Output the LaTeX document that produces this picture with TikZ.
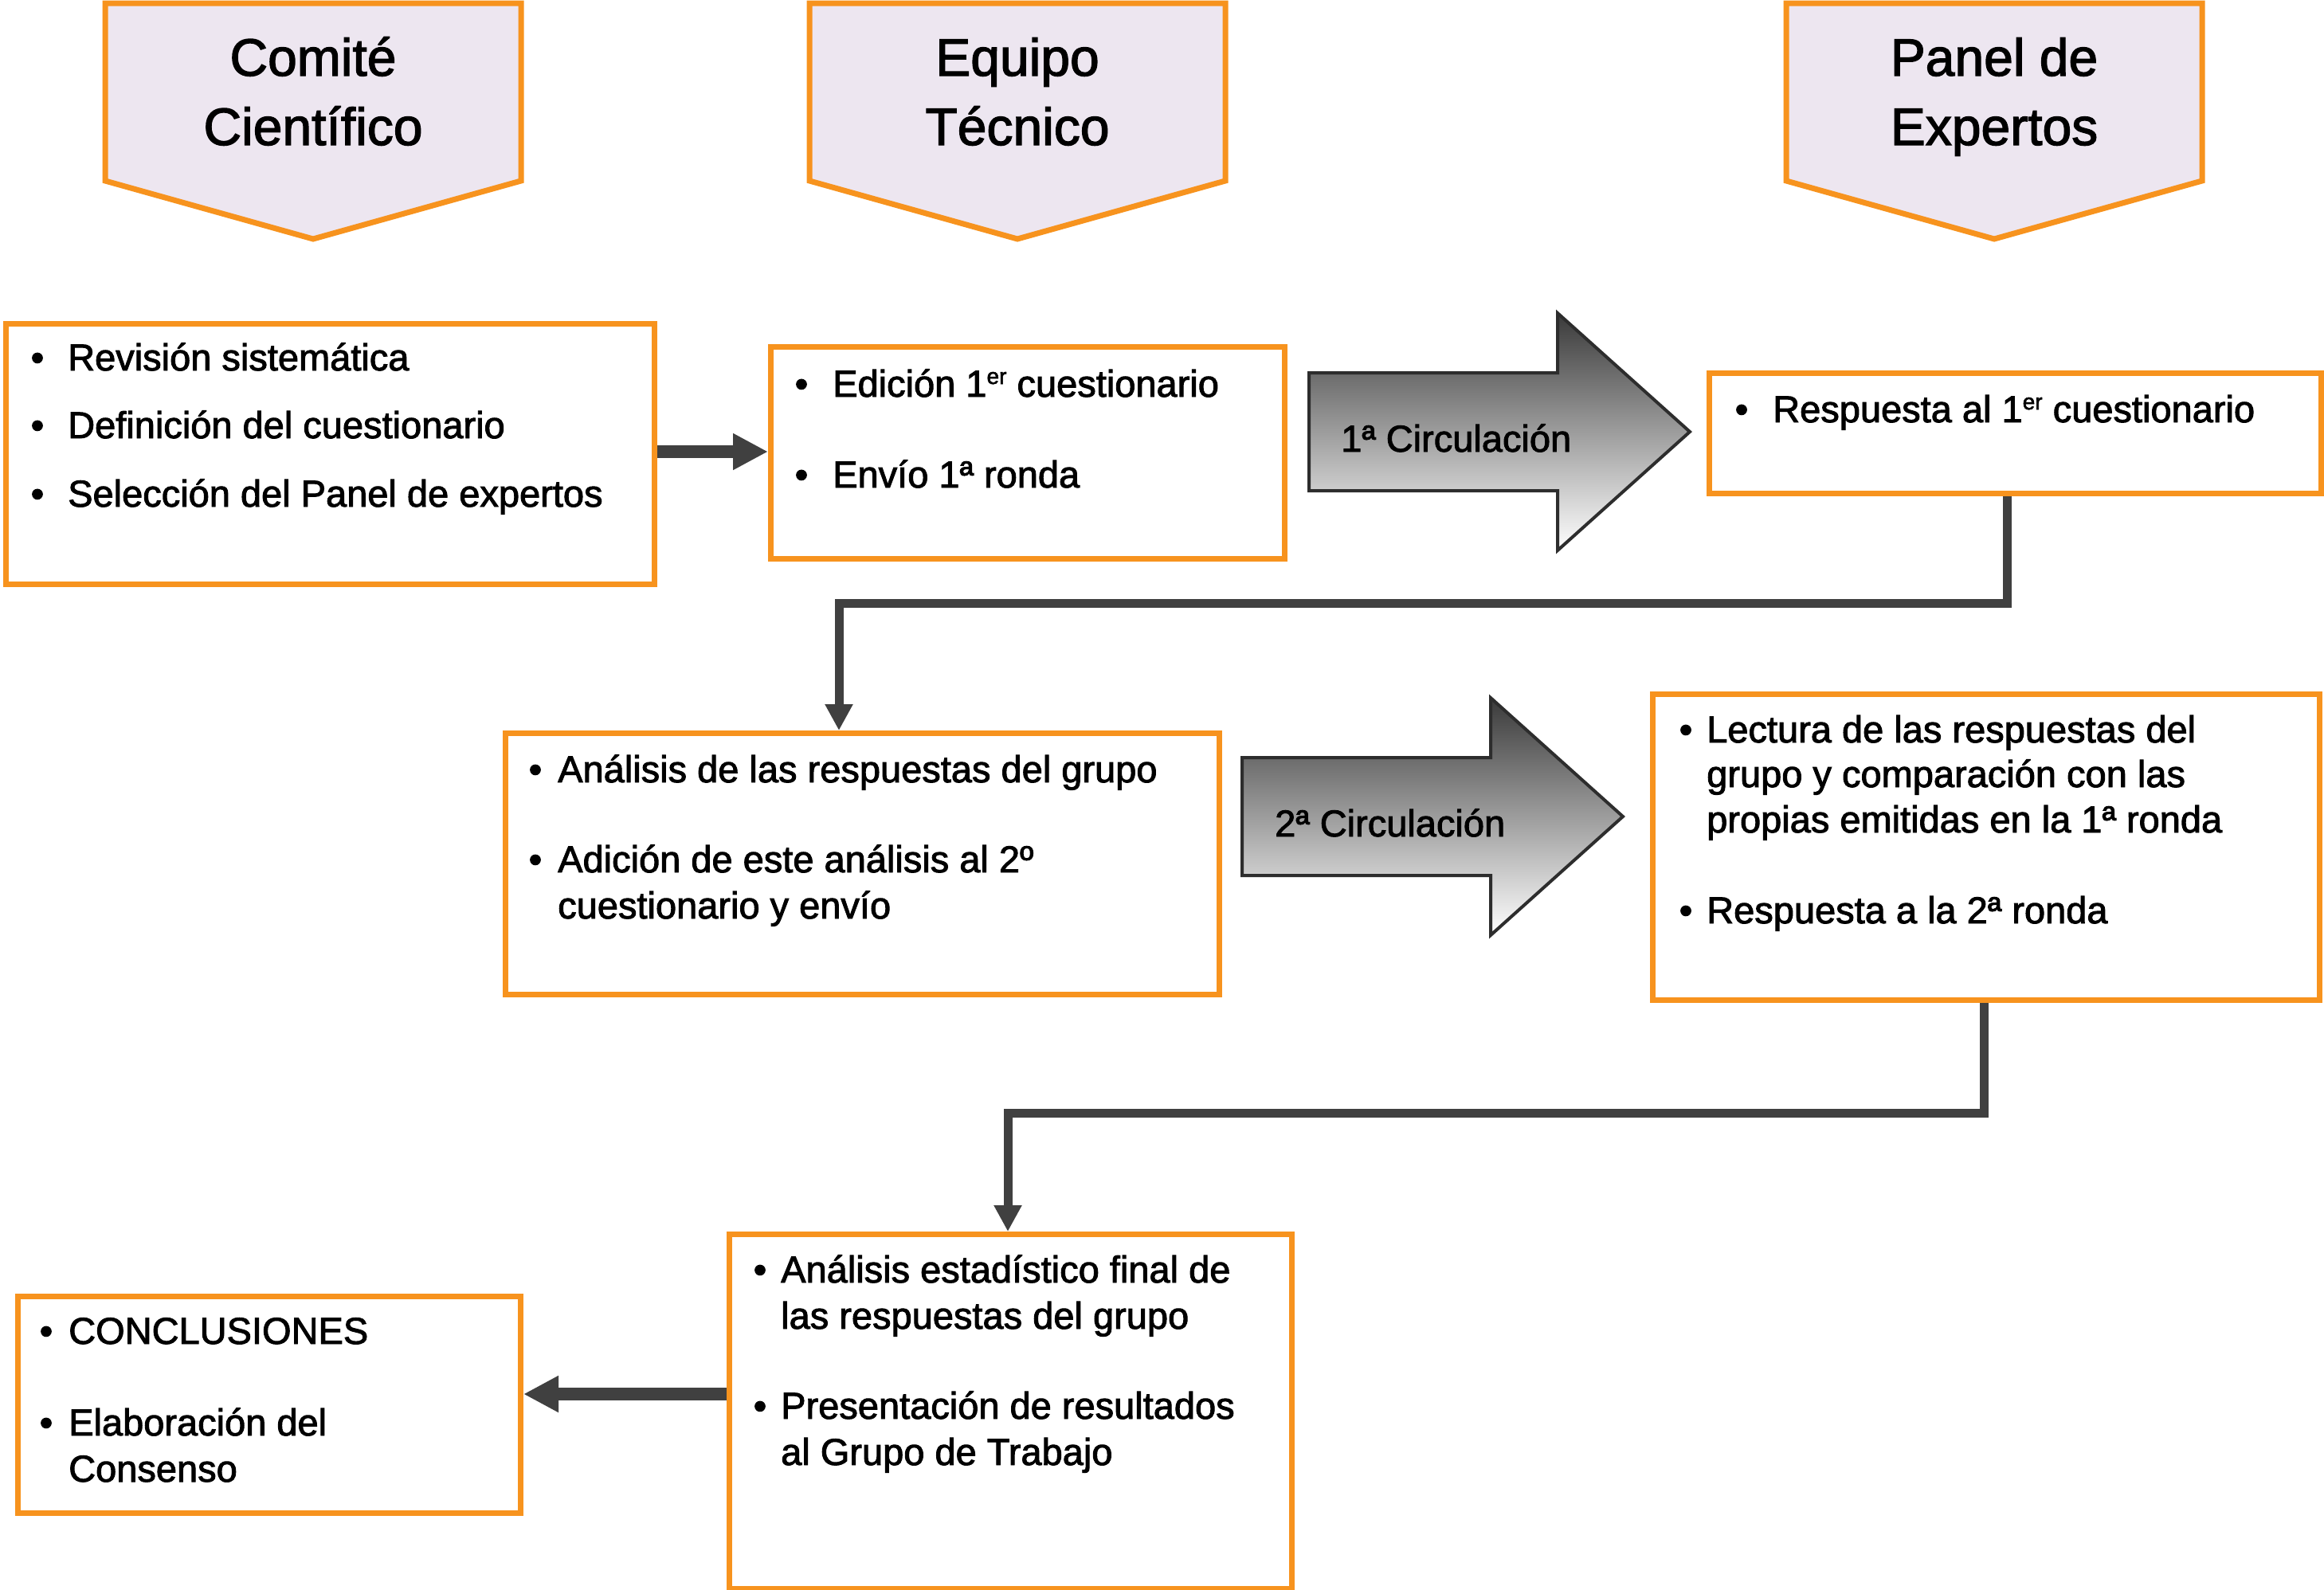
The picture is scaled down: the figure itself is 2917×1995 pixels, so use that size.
\documentclass[tikz,border=0pt]{standalone}
\usepackage{fontspec}
\setmainfont{Liberation Sans}[FakeBold=2]
\usetikzlibrary{arrows.meta}
\definecolor{orng}{RGB}{247,147,30}
\definecolor{lav}{RGB}{237,230,240}
\definecolor{dgray}{RGB}{64,64,64}
\newcommand\supx[1]{\raisebox{16pt}{\fontsize{28}{28}\selectfont #1}}
\begin{document}
\begin{tikzpicture}[x=1pt,y=-1pt,
  box/.style={draw=orng,line width=7pt,fill=white,rectangle,inner sep=0pt,anchor=north west},
  txt/.style={anchor=base west,inner sep=0pt,font=\fontsize{47}{56}\selectfont},
  bul/.style={anchor=base,inner sep=0pt,font=\fontsize{47}{56}\selectfont},
  head/.style={anchor=base,inner sep=0pt,font=\fontsize{66}{80}\selectfont},
  hbox/.style={draw=orng,line width=7pt,fill=lav,line join=miter},
  conn/.style={draw=dgray,line width=11pt,-{Triangle[length=33pt,width=33pt]}},
  fat/.style={draw=dgray,line width=16pt,-{Triangle[length=44pt,width=43pt]}},
  barrow/.style={draw={rgb,255:red,45;green,45;blue,45},line width=4pt,top color={rgb,255:red,58;green,58;blue,58},bottom color=white,line join=miter}
]
\useasboundingbox (0,0) rectangle (2917,1995);

% header pentagons
\foreach \l/\r in {132/654, 1016/1538, 2242/2764}{
  \path[hbox] (\l,4) -- (\r,4) -- (\r,227) -- ({(\l+\r)/2},300) -- (\l,227) -- cycle;
}
\node[head] (h1a) at (393,95) {Comité};
\node[head] (h1b) at (393,182) {Científico};
\node[head] (h2a) at (1277,95) {Equipo};
\node[head] (h2b) at (1277,182) {Técnico};
\node[head] (h3a) at (2503,95) {Panel de};
\node[head] (h3b) at (2503,182) {Expertos};

% boxes
\node[box,minimum width=814pt,minimum height=327pt] (A) at (4,403) {};
\node[box,minimum width=645pt,minimum height=266pt] (B) at (964,432) {};
\node[box,minimum width=768pt,minimum height=151pt] (C) at (2142,465) {};
\node[box,minimum width=896pt,minimum height=328pt] (D) at (631,917) {};
\node[box,minimum width=837pt,minimum height=384pt] (E) at (2071,868) {};
\node[box,minimum width=706pt,minimum height=445pt] (F) at (912,1546) {};
\node[box,minimum width=631pt,minimum height=272pt] (G) at (19,1624) {};

% block arrows
\foreach \x/\y in {1643/542, 1559/1025}{
  \path[barrow] (\x,\y-74) -- (\x+312,\y-74) -- (\x+312,\y-149) -- (\x+478,\y)
     -- (\x+312,\y+149) -- (\x+312,\y+74) -- (\x,\y+74) -- cycle;
}
\node[txt] (circ1) at (1683,567) {1\textordfeminine{} Circulación};
\node[txt] (circ2) at (1600,1050) {2\textordfeminine{} Circulación};

% texts box A
\node[bul] (a1b) at (47,465) {•};
\node[txt] (a1) at (85,465) {Revisión sistemática};
\node[bul] (a2b) at (47,550) {•};
\node[txt] (a2) at (85,550) {Definición del cuestionario};
\node[bul] (a3b) at (47,636) {•};
\node[txt] (a3) at (85,636) {Selección del Panel de expertos};

% box B
\node[bul] (b1b) at (1006,498) {•};
\node[txt] (b1) at (1045,498) {Edición 1\supx{er} cuestionario};
\node[bul] (b2b) at (1006,612) {•};
\node[txt] (b2) at (1045,612) {Envío 1\textordfeminine{} ronda};

% box C
\node[bul] (c1b) at (2186,530) {•};
\node[txt] (c1) at (2225,530) {Respuesta al 1\supx{er} cuestionario};

% box D
\node[bul] (d1b) at (672,982) {•};
\node[txt] (d1) at (700,982) {Análisis de las respuestas del grupo};
\node[bul] (d2b) at (672,1095) {•};
\node[txt] (d2) at (700,1095) {Adición de este análisis al 2\textordmasculine};
\node[txt] (d3) at (700,1153) {cuestionario y envío};

% box E
\node[bul] (e1b) at (2116,932) {•};
\node[txt] (e1) at (2142,932) {Lectura de las respuestas del};
\node[txt] (e2) at (2142,988) {grupo y comparación con las};
\node[txt] (e3) at (2142,1045) {propias emitidas en la 1\textordfeminine{} ronda};
\node[bul] (e4b) at (2116,1159) {•};
\node[txt] (e4) at (2142,1159) {Respuesta a la 2\textordfeminine{} ronda};

% box F
\node[bul] (f1b) at (954,1610) {•};
\node[txt] (f1) at (980,1610) {Análisis estadístico final de};
\node[txt] (f2) at (980,1668) {las respuestas del grupo};
\node[bul] (f3b) at (954,1781) {•};
\node[txt] (f3) at (980,1781) {Presentación de resultados};
\node[txt] (f4) at (980,1839) {al Grupo de Trabajo};

% box G
\node[bul] (g1b) at (58,1687) {•};
\node[txt] (g1) at (86,1687) {CONCLUSIONES};
\node[bul] (g2b) at (58,1802) {•};
\node[txt] (g2) at (86,1802) {Elaboración del};
\node[txt] (g3) at (86,1860) {Consenso};

% connectors
\coordinate (ab) at (0,567);
\coordinate (fg) at (0,1750);
\coordinate (k1) at (2519,757);
\coordinate (k2) at (1053,757);
\coordinate (k3) at (2490,1397);
\coordinate (k4) at (1265,1397);
\draw[fat] (A.east |- ab) -- (B.west |- ab);
\draw[fat] (F.west |- fg) -- (G.east |- fg);
\draw[conn] (C.south -| k1) -- (k1) -- (k2) -- (D.north -| k2);
\draw[conn] (E.south -| k3) -- (k3) -- (k4) -- (F.north -| k4);
\end{tikzpicture}
\end{document}
